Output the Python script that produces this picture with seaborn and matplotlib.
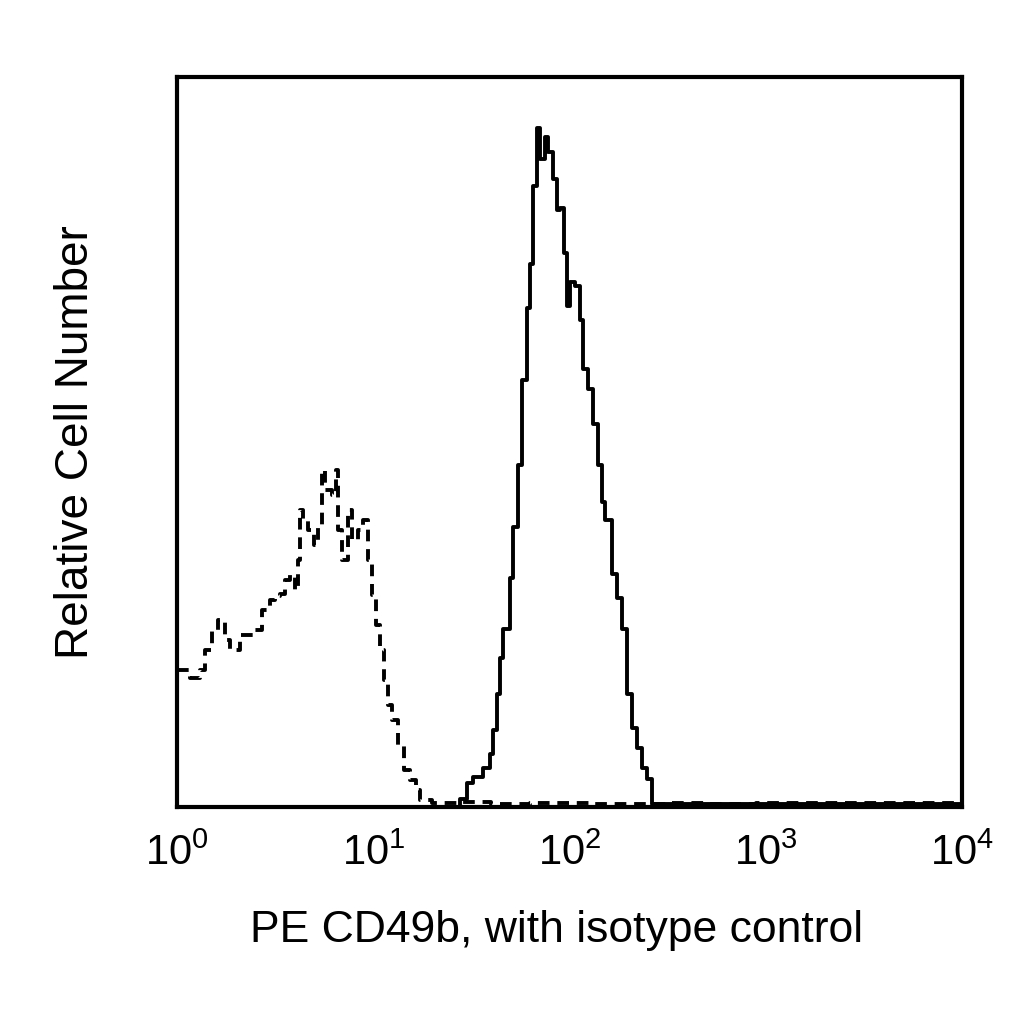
import matplotlib
matplotlib.use("Agg")
import matplotlib.pyplot as plt
import seaborn as sns
import numpy as np
import pandas as pd

# stained sample (solid): left edges of steps in log10 units, counts
solid_log = [0.0, 1.442, 1.476, 1.510, 1.561, 1.595, 1.612, 1.629, 1.646, 1.663, 1.697,
             1.714, 1.739, 1.756, 1.782, 1.799, 1.816, 1.836, 1.850, 1.875, 1.892,
             1.918, 1.935, 1.952, 1.972, 1.989, 2.003, 2.028, 2.054, 2.070, 2.096,
             2.121, 2.147, 2.164, 2.181, 2.215, 2.240, 2.266, 2.291, 2.317, 2.342,
             2.368, 2.393, 2.419, 4.0]
solid_counts = [0, 8, 24, 30, 39, 53, 77, 113, 149, 178, 229,
                280, 342, 427, 499, 543, 621, 679, 648, 670, 655,
                628, 597, 599, 554, 501, 525, 521, 487, 438, 418,
                383, 342, 305, 287, 233, 209, 178, 113, 79, 59,
                39, 28, 3, 0]

# isotype control (dashed)
iso_log = [0.0, 0.015, 0.066, 0.117, 0.143, 0.178, 0.209, 0.245, 0.270, 0.321, 0.397,
           0.433, 0.474, 0.499, 0.525, 0.550, 0.576, 0.601, 0.617, 0.627, 0.642,
           0.668, 0.698, 0.718, 0.739, 0.754, 0.790, 0.810, 0.820, 0.841, 0.871,
           0.892, 0.922, 0.948, 0.973, 0.994, 1.014, 1.034, 1.055, 1.075, 1.096,
           1.126, 1.157, 1.187, 1.218, 1.238, 1.30, 1.45, 1.60, 1.80, 2.10,
           2.50, 2.70, 2.95, 3.90, 4.0]
iso_counts = [137, 137, 129, 137, 157, 177, 187, 167, 157, 172, 177,
              197, 207, 211, 213, 227, 232, 217, 247, 297, 287,
              277, 262, 282, 337, 317, 312, 337, 277, 247, 297,
              267, 277, 287, 247, 212, 182, 157, 127, 102, 87,
              62, 37, 27, 17, 7, 4, 5, 3, 4, 3,
              4, 3, 4, 4, 4]

xtick_vals = [1, 10, 100, 1000, 10000]
xtick_labels = [r"$10^{0}$", r"$10^{1}$", r"$10^{2}$", r"$10^{3}$", r"$10^{4}$"]

sns.set_style("white")
plt.rcParams["font.family"] = ["Liberation Sans", "DejaVu Sans"]
plt.rcParams["mathtext.fontset"] = "custom"
plt.rcParams["mathtext.rm"] = "Liberation Sans"
plt.rcParams["mathtext.it"] = "Liberation Sans"
plt.rcParams["mathtext.default"] = "regular"
plt.rcParams["text.color"] = "black"
plt.rcParams["axes.labelcolor"] = "black"
plt.rcParams["xtick.color"] = "black"

solid = pd.DataFrame({"x": np.power(10.0, solid_log), "y": solid_counts})
iso = pd.DataFrame({"x": np.power(10.0, iso_log), "y": iso_counts})

fig = plt.figure(figsize=(10.24, 10.24), dpi=100)
ax = fig.add_axes([0.1729, 0.2119, 0.7666, 0.7129])

sns.lineplot(data=iso, x="x", y="y", ax=ax, color="black", linewidth=2.8,
             drawstyle="steps-post", linestyle=(0, (3, 2)))
sns.lineplot(data=solid, x="x", y="y", ax=ax, color="black", linewidth=2.8,
             drawstyle="steps-post")

ax.set_xscale("log")
ax.set_xlim(1, 10000)
ax.set_ylim(0, 730)
ax.set_xticks(xtick_vals)
ax.set_xticklabels(xtick_labels, fontsize=30, color="black")
ax.minorticks_off()
ax.set_yticks([])
ax.tick_params(axis="x", length=0, pad=19)
ax.set_xlabel("PE CD49b, with isotype control", fontsize=32, labelpad=26,
              color="black")
ax.xaxis.label.set_x(0.483)
ax.set_ylabel("Relative Cell Number", fontsize=33, labelpad=57, color="black")
for s in ax.spines.values():
    s.set_visible(True)
    s.set_linewidth(3)
    s.set_color("black")

fig.savefig("out.png", dpi=100)
